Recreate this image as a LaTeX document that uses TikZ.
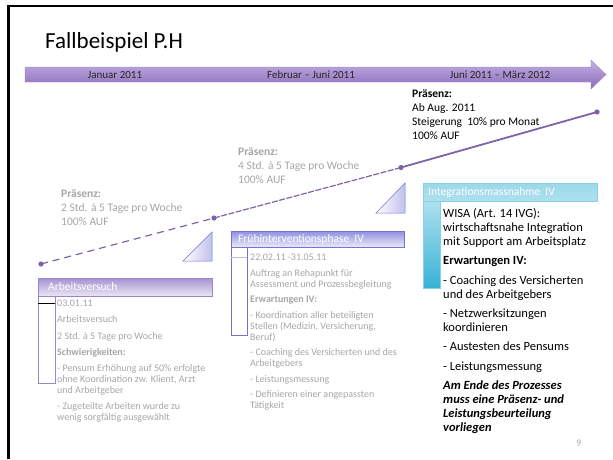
\documentclass[tikz,border=0pt]{standalone}
\usepackage{fontspec}
\setmainfont{Carlito}
\definecolor{grau}{HTML}{A6A6A6}
\definecolor{lila}{HTML}{7F63A8}
\definecolor{lilahell}{HTML}{C3AFE4}
\definecolor{liladunkel}{HTML}{8A6DB8}
\definecolor{violett}{HTML}{9B85CC}
\definecolor{blauv}{HTML}{7373D8}
\definecolor{tuerkis}{HTML}{36B2D6}
\tikzset{
	lbl/.style={inner sep=0pt, text=black!85, font=\fontsize{11}{12}\selectfont},
	praes/.style={anchor=north west, align=left, inner sep=0pt, font=\fontsize{11.5}{14}\selectfont},
	klein/.style={anchor=north west, align=left, inner sep=0pt, text=grau},
	kopf/.style={anchor=west, inner sep=0pt, text=white, font=\fontsize{11.5}{12}\selectfont},
	keil/.style={left color=white, right color=#1!45, draw=#1, line width=0.5pt},
	punkt/.style={fill=lila}
}
\begin{document}
\begin{tikzpicture}[x=1pt,y=-1pt]
			\useasboundingbox (0,0) rectangle (613,459);
			\draw[line width=2.5pt] (8.5,459) -- (8.5,6) -- (613,6);
			\node (titel) at (45,48) [anchor=base west, inner sep=0pt, font=\fontsize{23}{26}\selectfont]{Fallbeispiel P.H};
			\shade[top color=lilahell, bottom color=liladunkel, draw=violett, line width=0.4pt]
				(25,67) -- (591,67) -- (591,60) -- (606,74.5) -- (591,89) -- (591,82) -- (25,82) -- cycle;
			\node (jan) at (115,74.5) [lbl]{Januar 2011};
			\node (feb) at (311,74.5) [lbl]{Februar -- Juni 2011};
			\node (jun) at (500,74.5) [lbl]{Juni 2011 -- März 2012};
			\coordinate (P1) at (41,264);
			\coordinate (P2) at (214,218);
			\coordinate (P3) at (401,167.5);
			\coordinate (P4) at (597,112);
			\draw[lila, line width=1.2pt, dash pattern=on 7pt off 5pt] (P1) -- (P2);
			\draw[lila, line width=1.2pt, dash pattern=on 6pt off 1.5pt] (P2) -- (P3);
			\draw[lila, line width=1.8pt] (P3) -- (P4);
			\foreach \p in {P1,P2,P3,P4}
				\fill[punkt] (\p) circle (2.6);
			\node (pr1) at (61,189.5) [praes, text=grau]{\textbf{Präsenz:}\\2 Std. à 5 Tage pro Woche\\100\% AUF};
			\node (pr2) at (238,147.5) [praes, text=grau]{\textbf{Präsenz:}\\4 Std. à 5 Tage pro Woche\\100\% AUF};
			\node (pr3) at (412,89.5) [praes]{\textbf{Präsenz:}\\Ab Aug. 2011\\Steigerung~~10\% pro Monat\\100\% AUF};
			\draw[keil=blauv] (183,261) -- (212,232) -- (212,261) -- cycle;
			\draw[keil=blauv] (376,213) -- (405,183) -- (405,213) -- cycle;
			\shade[top color=violett!90, bottom color=violett!20, draw=violett, line width=0.6pt] (38,278) rectangle (212,296);
			\draw[violett, line width=0.6pt] (38,296) rectangle (55,383);
			\draw[black, line width=1pt] (38,303) -- (55,303);
			\node (av) at (48,287) [kopf]{Arbeitsversuch};
			\node (avtxt) at (57,300) [klein, font=\fontsize{10}{10.8}\selectfont]{03.01.11\\[5.5pt]
				Arbeitsversuch\\[5.5pt]
				2 Std. à 5 Tage pro Woche\\[5.5pt]
				\textbf{Schwierigkeiten:}\\[5.5pt]
				- Pensum Erhöhung auf 50\% erfolgte\\ohne Koordination zw. Klient, Arzt\\und Arbeitgeber\\[5.5pt]
				- Zugeteilte Arbeiten wurde zu\\wenig sorgfältig ausgewählt};
			\shade[top color=blauv!80, bottom color=blauv!15, draw=blauv, line width=0.6pt] (231,231) rectangle (404,247);
			\draw[blauv, line width=0.6pt] (231,247) rectangle (247,335);
			\draw[blauv!50, line width=0.8pt] (231,257) -- (247,257);
			\node (fi) at (238,239) [kopf]{Frühinterventionsphase~~IV};
			\node (fitxt) at (250,254) [klein, font=\fontsize{10}{11}\selectfont]{22.02.11 -31.05.11\\[4.5pt]
				Auftrag an Rehapunkt für\\Assessment und Prozessbegleitung\\[4.5pt]
				\textbf{Erwartungen IV:}\\[4.5pt]
				- Koordination aller beteiligten\\Stellen (Medizin, Versicherung,\\Beruf)\\[4.5pt]
				- Coaching des Versicherten und des\\Arbeitgebers\\[4.5pt]
				- Leistungsmessung\\[4.5pt]
				- Definieren einer angepassten\\Tätigkeit};
			\shade[top color=tuerkis!50, bottom color=tuerkis!40, draw=tuerkis!60, line width=0.4pt] (423,183) rectangle (597,201);
			\shade[top color=tuerkis!40, bottom color=tuerkis, draw=tuerkis!60, line width=0.4pt] (423,201) rectangle (440,288);
			\node (im) at (428,192) [kopf]{Integrationsmassnahme~~IV};
			\node (imtxt) at (443,208) [anchor=north west, align=left, inner sep=0pt, font=\fontsize{12.5}{14.2}\selectfont]{WISA (Art. 14 IVG):\\wirtschaftsnahe Integration\\mit Support am Arbeitsplatz\\[5pt]
				\textbf{Erwartungen IV:}\\[5pt]
				- Coaching des Versicherten\\und des Arbeitgebers\\[5pt]
				- Netzwerksitzungen\\koordinieren\\[5pt]
				- Austesten des Pensums\\[5pt]
				- Leistungsmessung\\[5pt]
				\textbf{\itshape Am Ende des Prozesses}\\\textbf{\itshape muss eine Präsenz- und}\\\textbf{\itshape Leistungsbeurteilung}\\\textbf{\itshape vorliegen}};
			\node (seite) at (579,443) [inner sep=0pt, text=grau, font=\fontsize{10}{12}\selectfont]{9};
		\end{tikzpicture}
\end{document}
